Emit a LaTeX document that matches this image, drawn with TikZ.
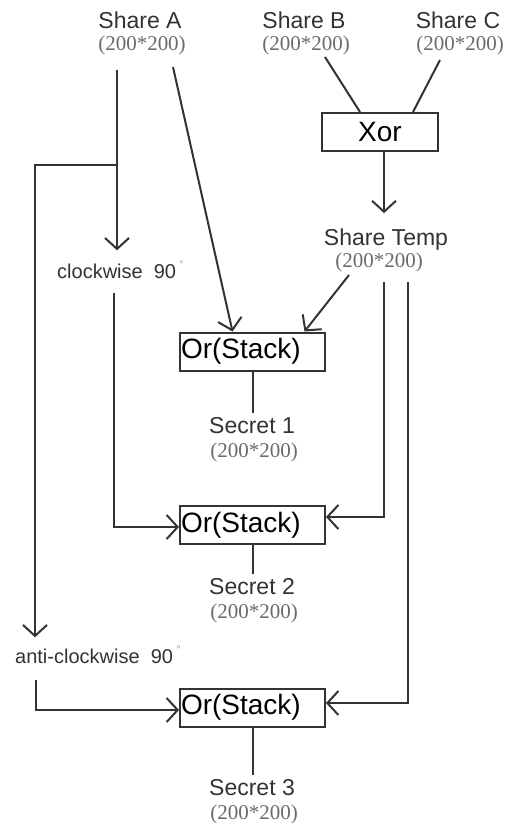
\documentclass[tikz,border=0pt]{standalone}
\usepackage{fontspec}
\setmainfont{Liberation Serif}
\setsansfont{Liberation Sans}
\usepackage{tikz}
\usetikzlibrary{arrows.meta}
\definecolor{inkgray}{rgb}{0.2, 0.2, 0.2}
\definecolor{sizegray}{rgb}{0.42, 0.42, 0.42}
\definecolor{deggray}{rgb}{0.6, 0.6, 0.6}

\begin{document}
\begin{tikzpicture}[x=1pt, y=-1pt,
    link/.style={draw=inkgray, line width=2pt},
    >={Straight Barb[length=11pt, width=24pt]},
    title/.style={text=inkgray, font=\sffamily\fontsize{23}{23}\selectfont, inner sep=0pt, anchor=base},
    size/.style={text=sizegray, font=\rmfamily\fontsize{21}{21}\selectfont, inner sep=0pt, anchor=base},
    turn/.style={text=inkgray, font=\sffamily\fontsize{20}{20}\selectfont, inner sep=0pt, anchor=base west},
    orbox/.style={draw=inkgray, line width=2pt, text=black, font=\sffamily\fontsize{28}{28}\selectfont,
        text width=143pt, align=left, inner xsep=1pt, inner ysep=0pt, minimum height=38pt}
]
    \path[fill=white, use as bounding box] (0,0) rectangle (506,823);

    \foreach \nm/\x/\txt in {shareA/140/Share A, shareB/304/Share B, shareC/458/Share C} {
        \node[title] (\nm) at (\x, 28) {\txt};
        \node[size] (\nm-size) at (\x+2, 50) {(200*200)};
    }

    \node[orbox, text width=, align=center, minimum width=116pt] (xor) at (380, 132) {Xor};
    \node[title] (temp) at (386, 245) {Share Temp};
    \node[size] (temp-size) at (379, 267) {(200*200)};

    \node[turn] (cw) at (57, 278)
        {clockwise\ \ 90\,\smash{\raisebox{10pt}{\fontsize{11}{11}\selectfont\color{deggray}°}}};
    \node[turn] (acw) at (15, 663)
        {anti-clockwise\ \ 90\,\smash{\raisebox{10pt}{\fontsize{11}{11}\selectfont\color{deggray}°}}};

    \foreach \y/\sy [count=\i] in {351.5/433, 525/594, 707.5/795} {
        \node[orbox] (or\i) at (252.5, \y) {Or(Stack)};
        \node[title] (secret\i) at (252, \sy) {Secret \i};
        \node[size] (secret\i-size) at (254, \sy+24) {(200*200)};
        \draw[link, shorten >=4pt] (or\i.south) -- (or\i.south |- secret\i.north);
    }

    % free ends of the connectors
    \coordinate (a-out1) at (117, 70);
    \coordinate (a-out2) at (173, 67);
    \coordinate (a-fork) at (117, 165);
    \coordinate (left-rail) at (35, 165);
    \coordinate (b-out) at (325, 57);
    \coordinate (c-out) at (440, 60);
    \coordinate (t-out0) at (349, 275);
    \coordinate (t-out1) at (384, 282);
    \coordinate (t-out2) at (408, 282);
    \coordinate (cw-out) at (114, 293);
    \coordinate (acw-out) at (36, 680);

    \draw[link] (b-out) -- ([xshift=-20pt]xor.north);
    \draw[link] (c-out) -- ([xshift=33pt]xor.north);
    \draw[link, ->, shorten >=15pt] ([xshift=4pt]xor.south) -- ([xshift=4pt]xor.south |- temp.north);

    \draw[link, ->, shorten >=13pt] (a-out1) -- (a-out1 |- cw.north);
    \draw[link, ->, shorten >=11pt] (a-fork) -- (left-rail) -- (left-rail |- acw.north);
    \draw[link, ->] (a-out2) -- ([xshift=-20pt]or1.north);
    \draw[link, ->] (t-out0) -- ([xshift=52pt]or1.north);

    \draw[link, ->] (cw-out) |- ([yshift=-2pt]or2.west);
    \draw[link, ->] (t-out1) |- ([yshift=8pt]or2.east);
    \draw[link, ->] (acw-out) |- ([yshift=-2.5pt]or3.west);
    \draw[link, ->] (t-out2) |- ([yshift=4.5pt]or3.east);

\end{tikzpicture}
\end{document}
